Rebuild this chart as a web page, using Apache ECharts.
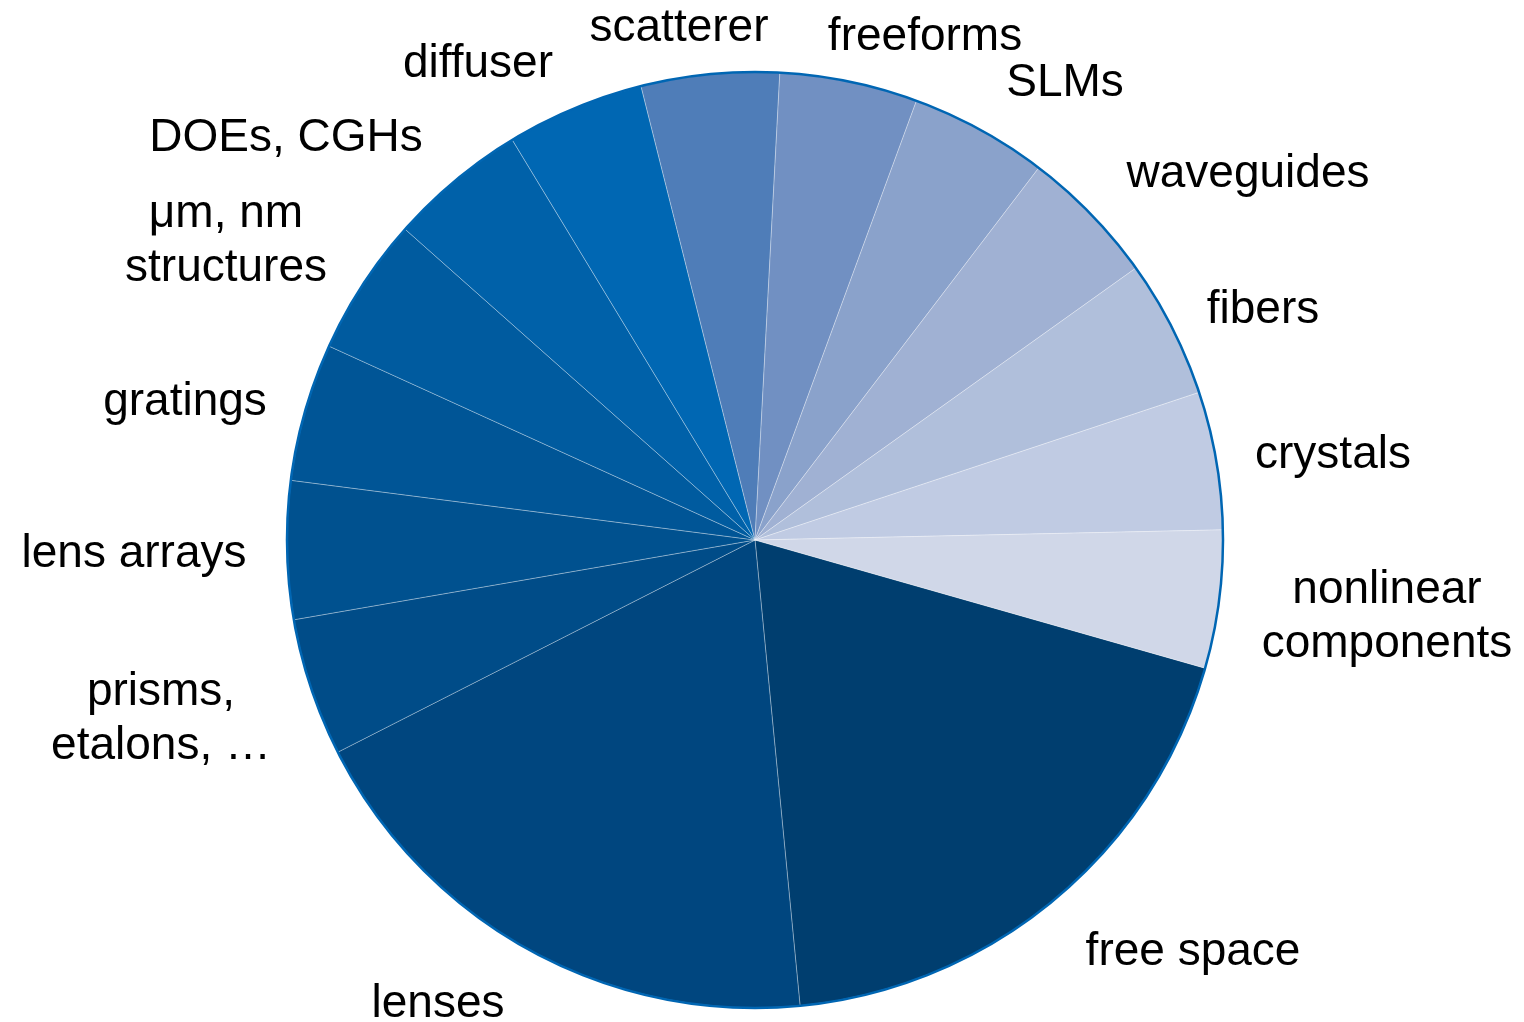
<!DOCTYPE html>
<html>
<head>
<meta charset="utf-8">
<style>
  html, body { margin: 0; padding: 0; background: #ffffff; }
  #chart { width: 1524px; height: 1022px; }
</style>
<script src="https://cdn.jsdelivr.net/npm/echarts@6/dist/echarts.min.js"></script>
</head>
<body>
<div id="chart"></div>
<script>
// Optical components / propagation media, relative shares
const categories = [
  'free space', 'lenses', 'prisms,\netalons, …', 'lens arrays', 'gratings',
  'μm, nm\nstructures', 'DOEs, CGHs', 'diffuser', 'scatterer', 'freeforms',
  'SLMs', 'waveguides', 'fibers', 'crystals', 'nonlinear\ncomponents'
];
const shares = [4, 4, 1, 1, 1, 1, 1, 1, 1, 1, 1, 1, 1, 1, 1];

// Fill colours, dark navy through bright blue to pale blue-grey
const sliceColors = [
  '#003e6f', '#00467f', '#004c88', '#00518f', '#005596',
  '#005b9f', '#0061a9', '#0067b3', '#4f7db8', '#7190c2',
  '#8aa2cb', '#a0b1d3', '#b0bfdb', '#c0cbe3', '#d0d7e8'
];

// Pie geometry
const CX = 755, CY = 540, R = 468;

// Label anchor offsets (px) from the pie centre
const labelOffsets = [
  [438, 412], [-317, 464], [-594, 179], [-621, 14], [-570, -138],
  [-529, -299], [-469, -402], [-277, -476], [-76, -512], [170, -503],
  [310, -457], [493, -366], [508, -230], [578, -85], [632, 77]
];

const chart = echarts.init(document.getElementById('chart'), null, { renderer: 'canvas' });

const pieData = categories.map((name, i) => ({
  name: name,
  value: shares[i],
  itemStyle: { color: sliceColors[i] }
}));

chart.setOption({
  animation: false,
  backgroundColor: '#ffffff',
  series: [
    {
      type: 'pie',
      center: [CX, CY],
      radius: R,
      startAngle: -15.9,
      clockwise: true,
      avoidLabelOverlap: false,
      silent: true,
      itemStyle: {
        borderColor: 'rgba(255,255,255,0.3)',
        borderWidth: 1
      },
      label: {
        show: true,
        position: 'outside',
        formatter: '{b}',
        color: '#000000',
        fontFamily: '"Liberation Sans", Arial, sans-serif',
        fontSize: 46,
        lineHeight: 54,
        align: 'center'
      },
      labelLine: { show: false },
      labelLayout: function (params) {
        const o = labelOffsets[params.dataIndex];
        return {
          x: CX + o[0],
          y: CY + o[1],
          align: 'center',
          verticalAlign: 'middle'
        };
      },
      data: pieData
    },
    {
      // outer rim of the pie
      type: 'pie',
      center: [CX, CY],
      radius: R,
      silent: true,
      label: { show: false },
      labelLine: { show: false },
      itemStyle: {
        color: 'rgba(0,0,0,0)',
        borderColor: '#0066b3',
        borderWidth: 2.5
      },
      data: [{ value: 1, name: 'rim' }]
    }
  ]
});
</script>
</body>
</html>
